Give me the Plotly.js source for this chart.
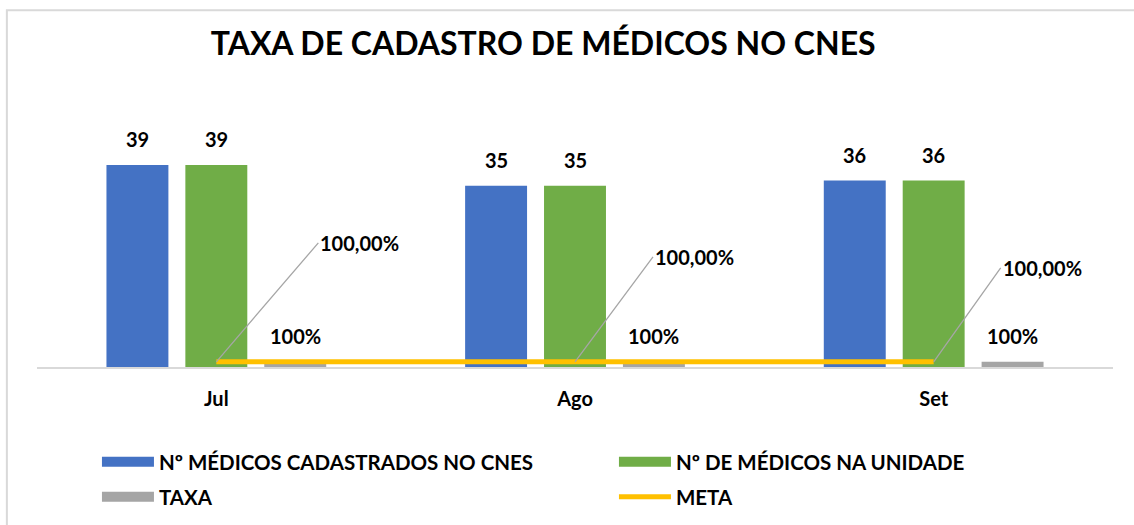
<!DOCTYPE html>
<html>
<head>
<meta charset="utf-8">
<script src="https://cdn.plot.ly/plotly-3.0.1.min.js"></script>
<style>
  html, body { margin: 0; padding: 0; background: #ffffff; }
  #chart { width: 1134px; height: 525px; }
</style>
</head>
<body>
<div id="chart"></div>
<script>
// ---- data ----
const categories = ["Jul", "Ago", "Set"];
const cadastrados = [39, 35, 36];
const naUnidade = [39, 35, 36];
const taxa = [1, 1, 1];
const meta = [1, 1, 1];
const seriesNames = ["Nº MÉDICOS CADASTRADOS NO CNES", "Nº DE MÉDICOS NA UNIDADE", "TAXA", "META"];

// ---- styles ----
const FONT = "Lato, 'Open Sans', 'DejaVu Sans', sans-serif";
const COLORS = ["#4472C4", "#70AD47", "#A5A5A5", "#FFC000"];
const SLOT = 0.22; // bar slot width in category units

function fmtPct0(v) { return Math.round(v * 100) + "%"; }
function fmtPct2(v) { return (v * 100).toFixed(2).replace(".", ",") + "%"; }

const barSeries = [cadastrados, naUnidade, taxa];
const legendOf = ["legend", "legend", "legend2", "legend2"];
const traces = [];
barSeries.forEach((vals, s) => {
  traces.push({ type: "bar", name: seriesNames[s], x: categories, y: vals,
    marker: { color: COLORS[s] }, hoverinfo: "skip", showlegend: false, legendgroup: "g" + s });
});
traces.push({ type: "scatter", mode: "lines", name: seriesNames[3], x: categories, y: meta,
  line: { color: COLORS[3], width: 5 }, hoverinfo: "skip", showlegend: false, legendgroup: "g3" });
// legend entries (wide swatches as in the original)
barSeries.forEach((vals, s) => {
  traces.push({ type: "scatter", mode: "lines", name: seriesNames[s], x: [null], y: [null],
    line: { color: COLORS[s], width: 13 }, legendgroup: "g" + s, legend: legendOf[s], hoverinfo: "skip" });
});
traces.push({ type: "scatter", mode: "lines", name: seriesNames[3], x: [null], y: [null],
  line: { color: COLORS[3], width: 5 }, legendgroup: "g3", legend: legendOf[3], hoverinfo: "skip" });

const annotations = [];
const labelFont = { family: FONT, size: 20, color: "#000000", weight: "bold" };
barSeries.forEach((vals, s) => {
  vals.forEach((v, j) => {
    annotations.push({
      x: j + (s - 1) * SLOT, y: v, xref: "x", yref: "y",
      text: s === 2 ? fmtPct0(v) : String(v),
      showarrow: false, yanchor: "bottom", yshift: 12,
      font: labelFont
    });
  });
});
// meta labels with leader lines
const metaOffsets = [[102, -119], [78, -105], [67, -94]];
meta.forEach((v, j) => {
  annotations.push({
    x: j, y: v, xref: "x", yref: "y",
    text: fmtPct2(v),
    showarrow: true, arrowhead: 0, arrowwidth: 1.3, arrowcolor: "#A6A6A6",
    ax: metaOffsets[j][0], ay: metaOffsets[j][1],
    xanchor: "left", yanchor: "middle",
    font: labelFont
  });
});

const legendBase = {
  orientation: "h", xref: "container", yref: "container",
  x: 0.0855, xanchor: "left", yanchor: "middle",
  entrywidth: 450, entrywidthmode: "pixels", itemwidth: 52,
  font: { family: FONT, size: 20.5, color: "#000000", weight: "bold" },
  traceorder: "normal", bgcolor: "rgba(0,0,0,0)"
};

const layout = {
  width: 1134, height: 525,
  margin: { l: 37, r: 21, t: 80, b: 158, autoexpand: false },
  paper_bgcolor: "#ffffff", plot_bgcolor: "rgba(0,0,0,0)",
  font: { family: FONT, color: "#000000" },
  title: {
    text: "TAXA DE CADASTRO DE MÉDICOS NO CNES",
    font: { family: FONT, size: 32, color: "#000000", weight: "bold" },
    x: 0.479, xanchor: "center", xref: "container",
    y: 0.916, yanchor: "middle", yref: "container"
  },
  barmode: "group", bargap: 0.34, bargroupgap: 0.215,
  xaxis: {
    type: "category", showgrid: false, zeroline: false,
    showline: true, linecolor: "#D9D9D9", linewidth: 2,
    ticks: "", ticklabelstandoff: 13,
    tickfont: { family: FONT, size: 20, color: "#000000", weight: "bold" },
    fixedrange: true
  },
  yaxis: {
    range: [0, 55.4], visible: false, showgrid: false, zeroline: false, fixedrange: true
  },
  showlegend: true,
  legend: Object.assign({}, legendBase, { y: 1 - 462 / 525 }),
  legend2: Object.assign({}, legendBase, { y: 1 - 497 / 525 }),
  annotations: annotations,
  shapes: [{
    type: "rect", xref: "paper", yref: "paper", layer: "below",
    x0: -0.028, x1: 1.05, y0: -0.7, y1: 1.243,
    line: { color: "#D9D9D9", width: 2 }, fillcolor: "rgba(0,0,0,0)"
  }]
};

Plotly.newPlot("chart", traces, layout, { displayModeBar: false, staticPlot: true });
</script>
</body>
</html>
